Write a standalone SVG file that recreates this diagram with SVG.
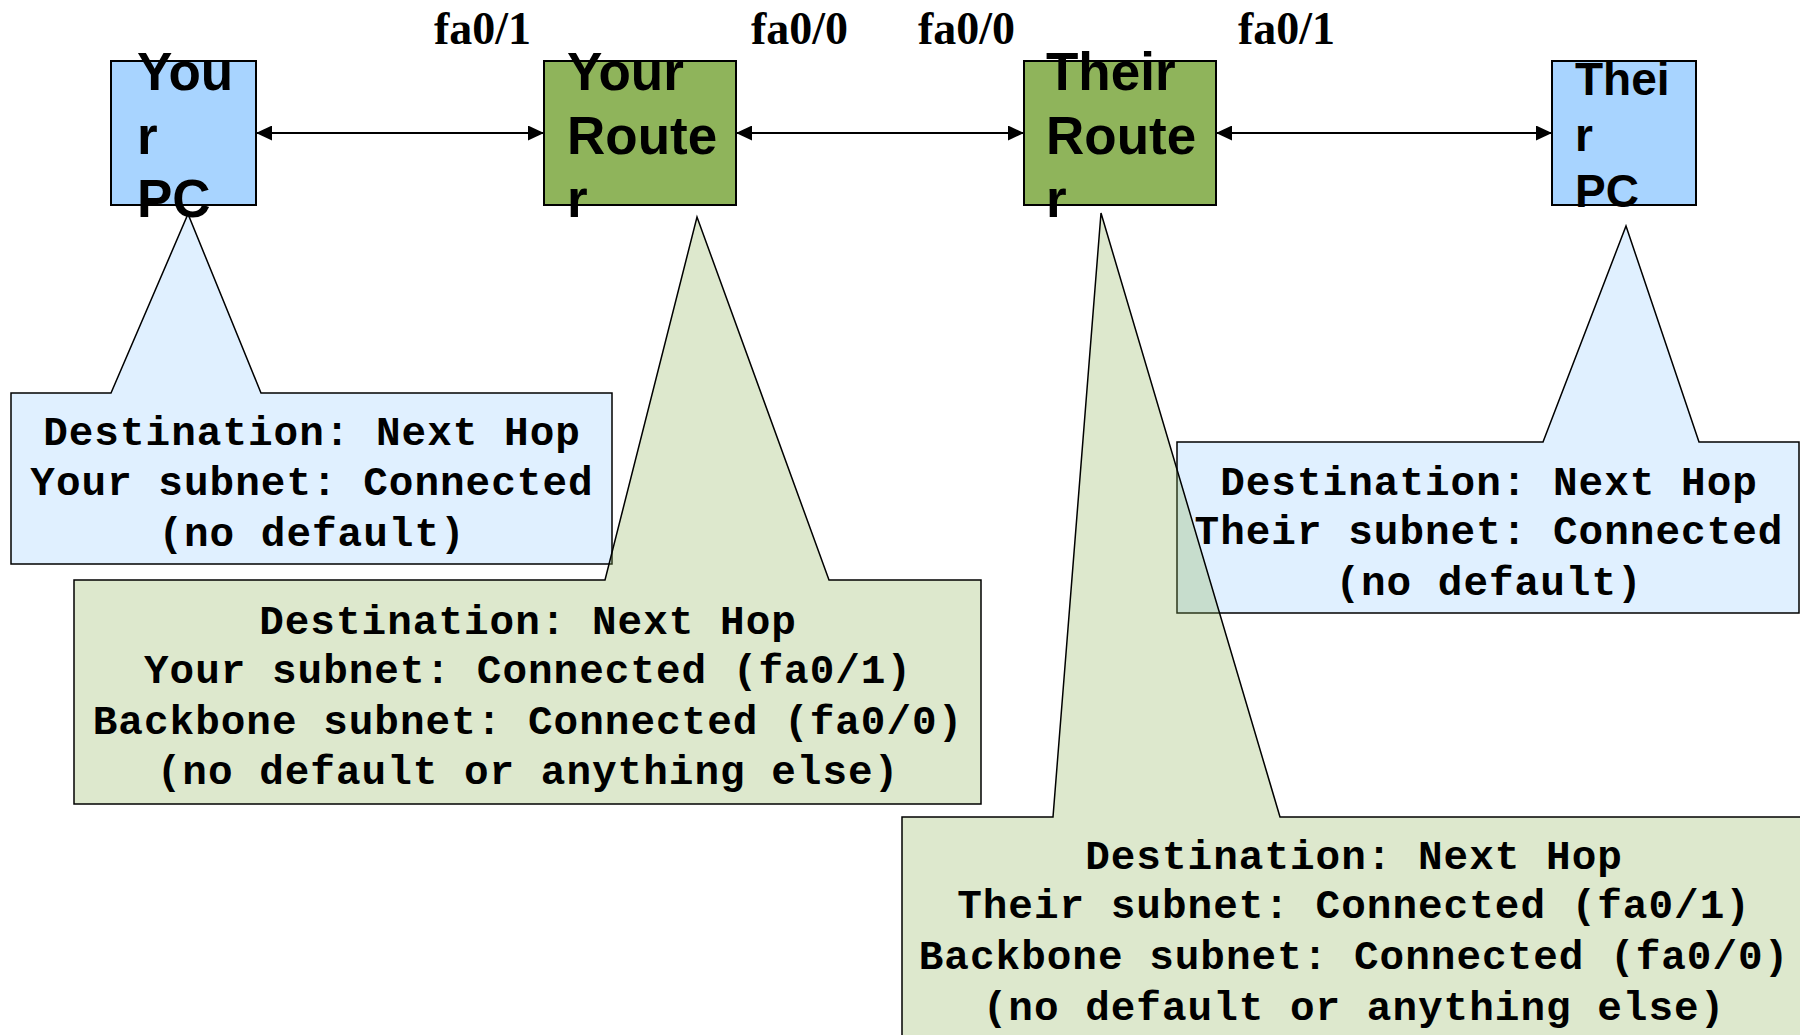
<svg xmlns="http://www.w3.org/2000/svg" width="1800" height="1035" viewBox="0 0 1800 1035">
  <style>
    .pc { fill: #A8D4FF; stroke: #000; stroke-width: 2; }
    .router { fill: #8FB45B; stroke: #000; stroke-width: 2; }
    .node-label { font-family: "Liberation Sans", Arial, sans-serif; font-weight: bold; fill: #000; }
    .port { font-family: "Liberation Serif", "Times New Roman", serif; font-weight: bold; font-size: 46px; fill: #000; }
    .callout-blue { fill: #99CCFF; fill-opacity: 0.3; stroke: #000; stroke-width: 1.5; }
    .callout-green { fill: #8FB45B; fill-opacity: 0.3; stroke: #000; stroke-width: 1.5; }
    .table { font-family: "Liberation Mono", "Courier New", monospace; font-weight: bold; font-size: 41px; letter-spacing: 1px; text-anchor: middle; fill: #000; }
    .link { stroke: #000; stroke-width: 2; fill: none; }
  </style>
  <defs>
    <marker id="arrow" viewBox="0 0 16 15" refX="16" refY="7.5" markerWidth="16" markerHeight="15" markerUnits="userSpaceOnUse" orient="auto-start-reverse">
      <path d="M0,0 L16,7.5 L0,15 z" fill="#000"/>
    </marker>
  </defs>

  <rect width="1800" height="1035" fill="#fff"/>

  <!-- interface labels -->
  <g id="ports">
    <text class="port" x="434" y="44">fa0/1</text>
    <text class="port" x="751" y="44">fa0/0</text>
    <text class="port" x="918" y="44">fa0/0</text>
    <text class="port" x="1238" y="44">fa0/1</text>
  </g>

  <!-- links between devices -->
  <g id="connectors">
    <line class="link" x1="256" y1="133" x2="544" y2="133" marker-start="url(#arrow)" marker-end="url(#arrow)"/>
    <line class="link" x1="736" y1="133" x2="1024" y2="133" marker-start="url(#arrow)" marker-end="url(#arrow)"/>
    <line class="link" x1="1216" y1="133" x2="1552" y2="133" marker-start="url(#arrow)" marker-end="url(#arrow)"/>
  </g>

  <!-- devices -->
  <g id="your-pc">
    <rect class="pc" x="111" y="61" width="145" height="144"/>
    <text class="node-label" font-size="53" x="137" y="90">You</text>
    <text class="node-label" font-size="53" x="137" y="154">r</text>
    <text class="node-label" font-size="53" x="137" y="217">PC</text>
  </g>
  <g id="your-router">
    <rect class="router" x="544" y="61" width="192" height="144"/>
    <text class="node-label" font-size="53" x="567" y="90">Your</text>
    <text class="node-label" font-size="53" x="567" y="154">Route</text>
    <text class="node-label" font-size="53" x="567" y="217">r</text>
  </g>
  <g id="their-router">
    <rect class="router" x="1024" y="61" width="192" height="144"/>
    <text class="node-label" font-size="53" x="1046" y="90">Their</text>
    <text class="node-label" font-size="53" x="1046" y="154">Route</text>
    <text class="node-label" font-size="53" x="1046" y="217">r</text>
  </g>
  <g id="their-pc">
    <rect class="pc" x="1552" y="61" width="144" height="144"/>
    <text class="node-label" font-size="46" x="1575" y="95">Thei</text>
    <text class="node-label" font-size="46" x="1575" y="151">r</text>
    <text class="node-label" font-size="46" x="1575" y="207">PC</text>
  </g>

  <!-- routing table callouts -->
  <g id="your-pc-table">
    <path class="callout-blue" d="M11,393 L111,393 L188,214 L261,393 L612,393 L612,564 L11,564 Z"/>
    <text class="table" x="312" y="445">Destination: Next Hop</text>
    <text class="table" x="312" y="495">Your subnet: Connected</text>
    <text class="table" x="312" y="546">(no default)</text>
  </g>
  <g id="your-router-table">
    <path class="callout-green" d="M74,580 L605,580 L697,217 L829,580 L981,580 L981,804 L74,804 Z"/>
    <text class="table" x="528" y="634">Destination: Next Hop</text>
    <text class="table" x="528" y="683">Your subnet: Connected (fa0/1)</text>
    <text class="table" x="528" y="734">Backbone subnet: Connected (fa0/0)</text>
    <text class="table" x="528" y="784">(no default or anything else)</text>
  </g>
  <g id="their-pc-table">
    <path class="callout-blue" d="M1177,442 L1543,442 L1626,226 L1699,442 L1799,442 L1799,613 L1177,613 Z"/>
    <text class="table" x="1489" y="495">Destination: Next Hop</text>
    <text class="table" x="1489" y="544">Their subnet: Connected</text>
    <text class="table" x="1489" y="595">(no default)</text>
  </g>
  <g id="their-router-table">
    <path class="callout-green" d="M902,817 L1053,817 L1101,213 L1280,817 L1805,817 L1805,1040 L902,1040 Z"/>
    <text class="table" x="1354" y="869">Destination: Next Hop</text>
    <text class="table" x="1354" y="918">Their subnet: Connected (fa0/1)</text>
    <text class="table" x="1354" y="969">Backbone subnet: Connected (fa0/0)</text>
    <text class="table" x="1354" y="1020">(no default or anything else)</text>
  </g>
</svg>
